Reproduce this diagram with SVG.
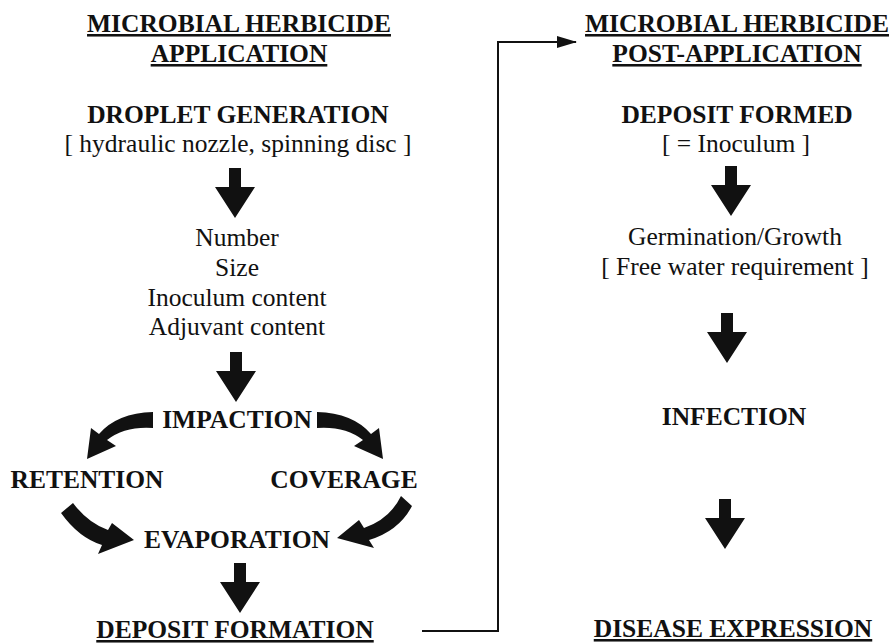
<svg xmlns="http://www.w3.org/2000/svg" width="894" height="644" viewBox="0 0 894 644">
<style>
text{font-family:"Liberation Serif","Times New Roman",serif;font-size:25.5px;fill:#111;text-anchor:middle}
.b{font-weight:bold}
.u{text-decoration:underline}
.arr{fill:#111}
.conn{fill:none;stroke:#111;stroke-width:2}
</style>
<defs>
<path id="down" d="M-6,0 H6 V19 H20 L0,50 L-20,19 H-6 Z"/>
<marker id="ah" markerWidth="20" markerHeight="12" refX="19" refY="6" orient="auto" markerUnits="userSpaceOnUse">
<path d="M0,0 L20,6 L0,12 Z" fill="#111"/>
</marker>
</defs>
<rect width="894" height="644" fill="#fff"/>

<g id="title-left">
<text class="b u" x="239" y="32">MICROBIAL HERBICIDE</text>
<text class="b u" x="239" y="62">APPLICATION</text>
</g>
<g id="droplet-generation">
<text class="b" x="238" y="123">DROPLET GENERATION</text>
<text x="238" y="152">[ hydraulic nozzle, spinning disc ]</text>
</g>
<g id="droplet-properties">
<text x="237" y="246">Number</text>
<text x="237" y="276">Size</text>
<text x="237" y="306">Inoculum content</text>
<text x="237" y="335">Adjuvant content</text>
</g>
<g id="impaction"><text class="b" x="237" y="428">IMPACTION</text></g>
<g id="retention"><text class="b" x="87" y="488">RETENTION</text></g>
<g id="coverage"><text class="b" x="344" y="488">COVERAGE</text></g>
<g id="evaporation"><text class="b" x="237" y="548">EVAPORATION</text></g>
<g id="deposit-formation"><text class="b u" x="235" y="638">DEPOSIT FORMATION</text></g>

<g id="title-right">
<text class="b u" x="737" y="32">MICROBIAL HERBICIDE</text>
<text class="b u" x="737" y="62">POST-APPLICATION</text>
</g>
<g id="deposit-formed">
<text class="b" x="737" y="123">DEPOSIT FORMED</text>
<text x="736" y="152">[ = Inoculum ]</text>
</g>
<g id="germination">
<text x="735" y="245">Germination/Growth</text>
<text x="735" y="275">[ Free water requirement ]</text>
</g>
<g id="infection"><text class="b" x="734" y="425">INFECTION</text></g>
<g id="disease-expression"><text class="b u" x="733" y="637">DISEASE EXPRESSION</text></g>

<g id="connectors">
<use href="#down" class="arr" x="235" y="168"/>
<use href="#down" class="arr" x="236" y="352"/>
<use href="#down" class="arr" x="240" y="563"/>
<use href="#down" class="arr" x="731" y="166"/>
<use href="#down" class="arr" x="727" y="313"/>
<use href="#down" class="arr" x="725" y="499"/>
<path class="arr" d="M153,412 Q117,413 99,434 L91,428 L87,459 L116,446 L107,440 Q125,426 153,428 Z"/>
<path class="arr" d="M317,412 Q353,413 371,434 L379,428 L383,459 L354,446 L363,440 Q345,426 317,428 Z"/>
<path class="arr" d="M73,503 Q88,523 108,530 L112,523 L134,540 L98,554 L102,545 Q79,538 61,513 Z"/>
<path class="arr" d="M401,496 Q390,519 364,528 L359,520 L337,538 L374,548 L369,540 Q399,531 412,506 Z"/>
<polyline class="conn" points="422,631 498,631 498,42 576,42" marker-end="url(#ah)"/>
</g>
</svg>
